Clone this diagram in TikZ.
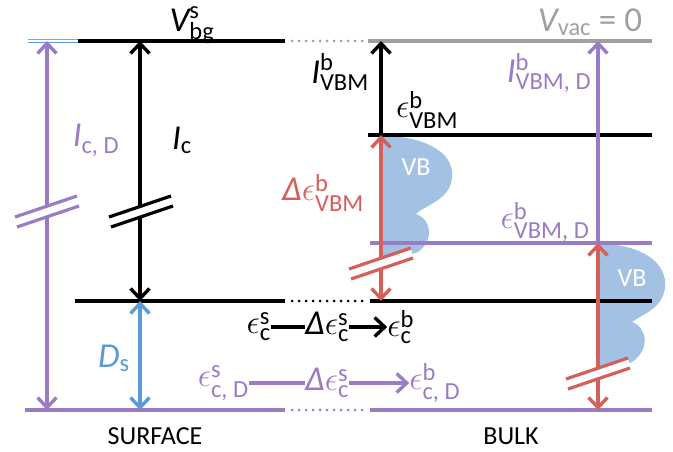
\documentclass[tikz,border=0pt]{standalone}
\usepackage{fontspec}
\setmainfont{Carlito}
\usepackage{amsmath}
\usepackage{graphicx}
\usetikzlibrary{arrows.meta, positioning}
\definecolor{lvlpurple}{HTML}{9A7CC4}
\definecolor{lvlred}{HTML}{D4605A}
\definecolor{lvlblue}{HTML}{5B9BD5}
\definecolor{vbblue}{HTML}{A3C1E2}
\definecolor{vacgray}{HTML}{A0A0A0}
\newcommand{\eps}{\mathord{\scalebox{1.35}{$\epsilon$}}}

\tikzset{
  cutmark/.pic={
    \fill[white] (-32,5) -- (30,-16) -- (32,-6) -- (-30,15) -- cycle;
    \draw[line width=3.2pt] (-32,5) -- (30,-16) (-30,15) -- (32,-6);
  }
}

\begin{document}
\begin{tikzpicture}[x=1pt, y=-1pt,
  lvl/.style={line width=3.2pt},
  gapdots/.style={line width=3pt, line cap=round, dash pattern=on 0pt off 7pt},
  barb/.style={line width=3.4pt, -{Straight Barb[length=10pt,width=19pt]}},
  dbl/.style={line width=3.4pt, {Straight Barb[length=10pt,width=19pt]}-{Straight Barb[length=10pt,width=19pt]}},
  lab/.style={font=\fontsize{35}{37}\selectfont, inner sep=0pt},
  tag/.style={font=\fontsize{26}{28}\selectfont, inner sep=1pt}]
  \useasboundingbox (0,0) rectangle (673,452);

  % valence band blobs
  \fill[vbblue] (383,136) .. controls (420,136) and (455,150) .. (452,178)
    .. controls (450,200) and (425,205) .. (416,214)
    .. controls (432,220) and (434,240) .. (418,252) -- (383,264) -- cycle;
  \fill[vbblue] (600,244) .. controls (640,244) and (668,262) .. (665,288)
    .. controls (662,310) and (640,315) .. (632,322)
    .. controls (648,328) and (650,350) .. (632,362) -- (600,374) -- cycle;

  % surface levels
  \draw[line width=1.8pt, lvlblue] (28,42.5) -- (285,42.5);
  \draw[line width=1.8pt, vacgray] (28,39.5) -- (78,39.5);
  \draw[lvl] (78,41) -- (285,41);
  \draw[lvl] (75,301) -- (285,301);
  \draw[lvl, lvlpurple] (25,410) -- (285,410);

  % gaps
  \draw[gapdots, vacgray] (292,41) -- (366,41);
  \draw[gapdots] (292,301) -- (366,301);
  \draw[gapdots, lvlpurple] (292,410) -- (366,410);

  % bulk levels
  \draw[lvl, vacgray] (368,41) -- (652,41);
  \draw[lvl] (368,135) -- (652,135);
  \draw[lvl, lvlpurple] (370,243) -- (652,243);
  \draw[lvl] (370,301) -- (652,301);
  \draw[lvl, lvlpurple] (370,410) -- (652,410);

  % arrow ends
  \coordinate (icdT) at (47,41);   \coordinate (icdB) at (47,410);
  \coordinate (icT) at (140,41);   \coordinate (icB) at (140,301);
  \coordinate (dsB) at (140,410);
  \coordinate (vbmT) at (381,41);  \coordinate (vbmB) at (381,135);
  \coordinate (cbB) at (381,301);
  \coordinate (vbmdT) at (598,41); \coordinate (vbmdB) at (598,243);
  \coordinate (cbdB) at (598,410);

  \draw[dbl, lvlpurple] (icdT) -- (icdB);
  \draw[dbl] (icT) -- (icB);
  \draw[dbl, lvlblue] (icB) -- (dsB);
  \draw[barb] (vbmB) -- (vbmT);
  \draw[dbl, lvlred] (vbmB) -- (cbB);
  \draw[barb, lvlpurple] (vbmdB) -- (vbmdT);
  \draw[dbl, lvlred] (vbmdB) -- (cbdB);

  % breaks
  \pic[lvlpurple] at (47,212) {cutmark};
  \pic at (141,212) {cutmark};
  \pic[lvlred] at (381,264) {cutmark};
  \pic[lvlred] at (598,374) {cutmark};

  % labels
  \node[lab] (vbg) at (192,25) {$\textit{V}^{\text{s}}_{\text{bg}}$};
  \node[lab, text=vacgray] (vvac) at (590,22) {$\textit{V}_{\text{vac}}$ = 0};
  \node[lab] (ivbm) at (340,72) {$\textit{I}^{\text{b}}_{\text{VBM}}$};
  \node[lab] (evbm) at (427,110) {$\eps^{\text{b}}_{\text{VBM}}$};
  \node[lab, text=lvlpurple] (ivbmd) at (549,73) {$\textit{I}^{\text{b}}_{\text{VBM, D}}$};
  \node[lab, text=lvlpurple] (icd) at (96,140) {$\textit{I}_{\text{c, D}}$};
  \node[lab] (ic) at (182,140) {$\textit{I}_{\text{c}}$};
  \node[lab, text=lvlred] (devbm) at (323,193) {$\textit{Δ}\eps^{\text{b}}_{\text{VBM}}$};
  \node[lab, text=lvlpurple] (evbmd) at (545,222) {$\eps^{\text{b}}_{\text{VBM, D}}$};
  \node[lab, text=lvlblue] (ds) at (114,358) {$\textit{D}_{\text{s}}$};
  \node[tag, text=white] (vbl) at (416,167) {VB};
  \node[tag, text=white] (vbr) at (632,278) {VB};

  % core level shifts
  \node[lab] (de) at (327,327) {$\textit{Δ}\eps^{\text{s}}_{\text{c}}$};
  \node[lab, left=34pt of de] (es) {$\eps^{\text{s}}_{\text{c}}$};
  \node[lab, right=38pt of de] (eb) {$\eps^{\text{b}}_{\text{c}}$};
  \draw[line width=3.4pt] (es.east) -- (de.west);
  \draw[barb] (de.east) -- (eb.west);

  \node[lab, text=lvlpurple] (ded) at (327,383) {$\textit{Δ}\eps^{\text{s}}_{\text{c}}$};
  \node[lab, text=lvlpurple, left=56pt of ded] (esd) {$\eps^{\text{s}}_{\text{c, D}}$};
  \node[lab, text=lvlpurple, right=60pt of ded] (ebd) {$\eps^{\text{b}}_{\text{c, D}}$};
  \draw[line width=3.4pt, lvlpurple] (esd.east) -- (ded.west);
  \draw[barb, lvlpurple] (ded.east) -- (ebd.west);

  \node[tag] (surf) at (155,436) {SURFACE};
  \node[tag] (bulk) at (511,436) {BULK};
\end{tikzpicture}
\end{document}
